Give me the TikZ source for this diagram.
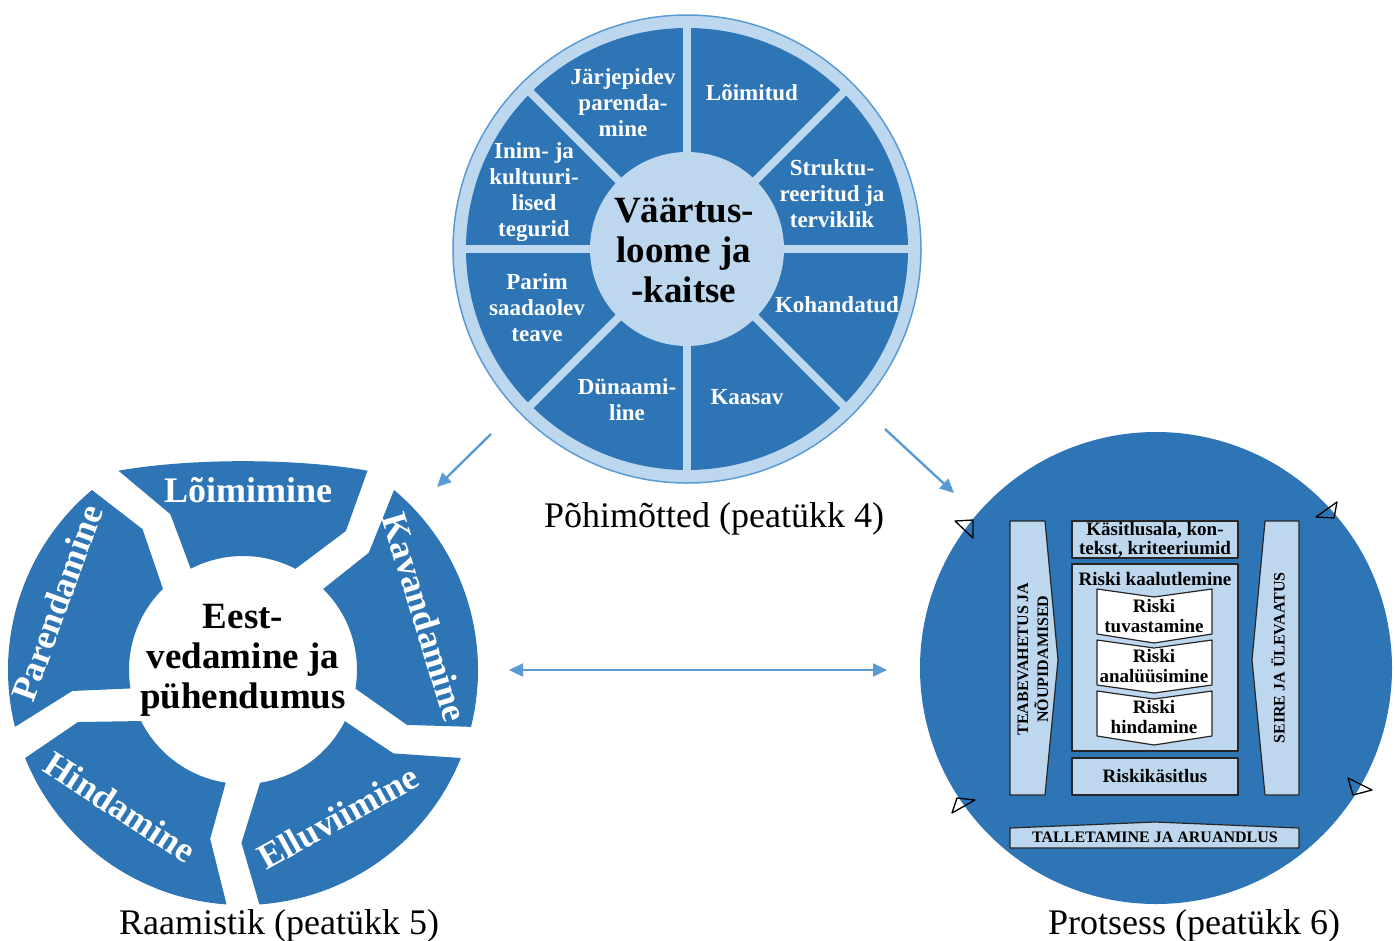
\documentclass[tikz,border=0pt]{standalone}
\usepackage{fontspec}
\setmainfont{Liberation Serif}
\usetikzlibrary{arrows.meta}
\definecolor{dblue}{HTML}{2E75B6}
\definecolor{lblue}{HTML}{BDD7EE}
\definecolor{ablue}{HTML}{5B9BD5}
\begin{document}
\begin{tikzpicture}[x=1pt,y=-1pt,
  wl/.style={text=white,font=\fontsize{23}{26}\selectfont\bfseries,align=center,inner sep=0pt},
  wlb/.style={text=white,font=\fontsize{36}{40}\selectfont\bfseries,inner sep=0pt},
  cl/.style={text=black,font=\fontsize{37}{40}\selectfont\bfseries,align=center,inner sep=0pt},
  captxt/.style={text=black,font=\fontsize{36}{40}\selectfont,inner sep=0pt,anchor=base},
  pbox/.style={fill=lblue,draw=black!85,line width=1.2pt,line join=round},
  wbox/.style={fill=white,draw=black!85,line width=1.2pt,line join=round},
  bt/.style={text=black,font=\fontsize{19}{19.5}\selectfont\bfseries,align=center,inner sep=0pt},
  vt/.style={text=black,font=\fontsize{16}{20}\selectfont\bfseries,align=center,inner sep=0pt,rotate=90},
  arr/.style={draw=ablue,line width=2.4pt,-{Triangle[length=14pt,width=13pt]}},
  darr/.style={draw=ablue,line width=2.4pt,{Triangle[length=14pt,width=13pt]}-{Triangle[length=14pt,width=13pt]}},
  tri/.style={draw=black,line width=1.3pt,line join=round}]
\useasboundingbox (0,0) rectangle (1395,940);

% ---------- top wheel (Pohimotted) ----------
\coordinate (W) at (687,249);
\fill[lblue] (W) circle[radius=234pt];
\draw[ablue,line width=1.5pt] (W) circle[radius=234pt];
\fill[dblue] (W) circle[radius=221pt];
\foreach \a in {0,45,...,315} \draw[lblue,line width=8pt] (W) -- ++(\a:222);
\fill[lblue] (W) circle[radius=97pt];

\node[wl] (jp) at (623,103) {Järjepidev\\parenda-\\mine};
\node[wl] (lm) at (752,93) {Lõimitud};
\node[wl] (st) at (832,194) {Struktu-\\reeritud ja\\terviklik};
\node[wl] (kh) at (837,305) {Kohandatud};
\node[wl] (ks) at (747,397) {Kaasav};
\node[wl] (dn) at (627,400) {Dünaami-\\line};
\node[wl] (pr) at (537,308) {Parim\\saadaolev\\teave};
\node[wl] (ik) at (534,192) {Inim- ja\\kultuuri-\\lised\\tegurid};
\node[cl] (vl) at (684,250) {Väärtus-\\loome ja\\-kaitse};
\node[captxt] (c4) at (714,527) {Põhimõtted (peatükk 4)};

% ---------- left wheel (Raamistik) ----------
\begin{scope}[shift={(243,670)}]
  \fill[dblue] (-122:235) .. controls (-53,-212) and (53,-212) .. (-58:235)
     -- (-53.5:173) -- (-62.6:114) arc[start angle=-62.6,end angle=-117.3,radius=114]
     -- (-115:172) -- cycle;
  \foreach \p in {-18,54,126,198}
    \fill[dblue] (\p-32:235) arc[start angle=\p-32,end angle=\p+32,radius=235]
      -- (\p+36.5:173) -- (\p+27.4:114) arc[start angle=\p+27.4,end angle=\p-27.3,radius=114]
      -- (\p-25:172) -- cycle;
\end{scope}
\node[wlb] (lo) at (248,490) {Lõimimine};
\node[wlb,rotate=-73] (kv) at (425,617) {Kavandamine};
\node[wlb,rotate=29] (el) at (338,817) {Elluviimine};
\node[wlb,rotate=-33] (hi) at (120,807) {Hindamine};
\node[wlb,rotate=70] (pa) at (57,603) {Parendamine};
\node[cl] (ev) at (243,660) {Eest-\\vedamine ja\\pühendumus};
\node[captxt] (c5) at (279,934) {Raamistik (peatükk 5)};

% ---------- right circle (Protsess) ----------
\fill[dblue] (1156,668) circle[radius=236pt];
\draw[tri] (955,521) -- (973,520) -- (973,538) -- cycle;
\draw[tri] (1337,502) -- (1334,518) -- (1316,517) -- cycle;
\draw[tri] (957,798) -- (975,800) -- (952,813) -- cycle;
\draw[tri] (1348,778) -- (1372,790) -- (1353,795) -- cycle;

\draw[pbox] (1010,521) -- (1045,521) -- (1058,660) -- (1045,795) -- (1010,795) -- cycle;
\node[vt] (tn) at (1033,659) {TEABEVAHETUS JA\\NÕUPIDAMISED};
\draw[pbox] (1265,521) -- (1299,521) -- (1299,795) -- (1265,795) -- (1252,660) -- cycle;
\node[vt] (sj) at (1278,658) {SEIRE JA ÜLEVAATUS};

\draw[pbox] (1072,521) rectangle (1238,558);
\node[bt] (kk) at (1155,540) {Käsitlusala, kon-\\tekst, kriteeriumid};
\draw[pbox] (1072,564) rectangle (1238,751);
\node[bt] (rk) at (1155,579) {Riski kaalutlemine};

\draw[wbox] (1097,589) -- (1154,597) -- (1212,589) -- (1212,634) -- (1154,643) -- (1097,634) -- cycle;
\node[bt] (rt) at (1154,616) {Riski\\tuvastamine};
\draw[wbox] (1097,640) -- (1154,648) -- (1212,640) -- (1212,685) -- (1154,693) -- (1097,685) -- cycle;
\node[bt] (ra) at (1154,666) {Riski\\analüüsimine};
\draw[wbox] (1097,691) -- (1154,699) -- (1212,691) -- (1212,736) -- (1154,745) -- (1097,736) -- cycle;
\node[bt] (rh) at (1154,717) {Riski\\hindamine};

\draw[pbox] (1072,758) rectangle (1238,795);
\node[bt] (rks) at (1155,776) {Riskikäsitlus};
\draw[pbox] (1010,828) -- (1155,822) -- (1299,828) -- (1299,848) -- (1010,848) -- cycle;
\node[vt,rotate=-90] (ta) at (1155,837) {TALLETAMINE JA ARUANDLUS};
\node[captxt] (c6) at (1194,934) {Protsess (peatükk 6)};

% ---------- arrows ----------
\coordinate (a1s) at (491,434);
\coordinate (a1e) at (437,487);
\coordinate (a2s) at (885,429);
\coordinate (a2e) at (954,493);
\coordinate (a3s) at (509,670);
\coordinate (a3e) at (887,670);
\draw[arr] (a1s) -- (a1e);
\draw[arr] (a2s) -- (a2e);
\draw[darr] (a3s) -- (a3e);
\end{tikzpicture}
\end{document}
